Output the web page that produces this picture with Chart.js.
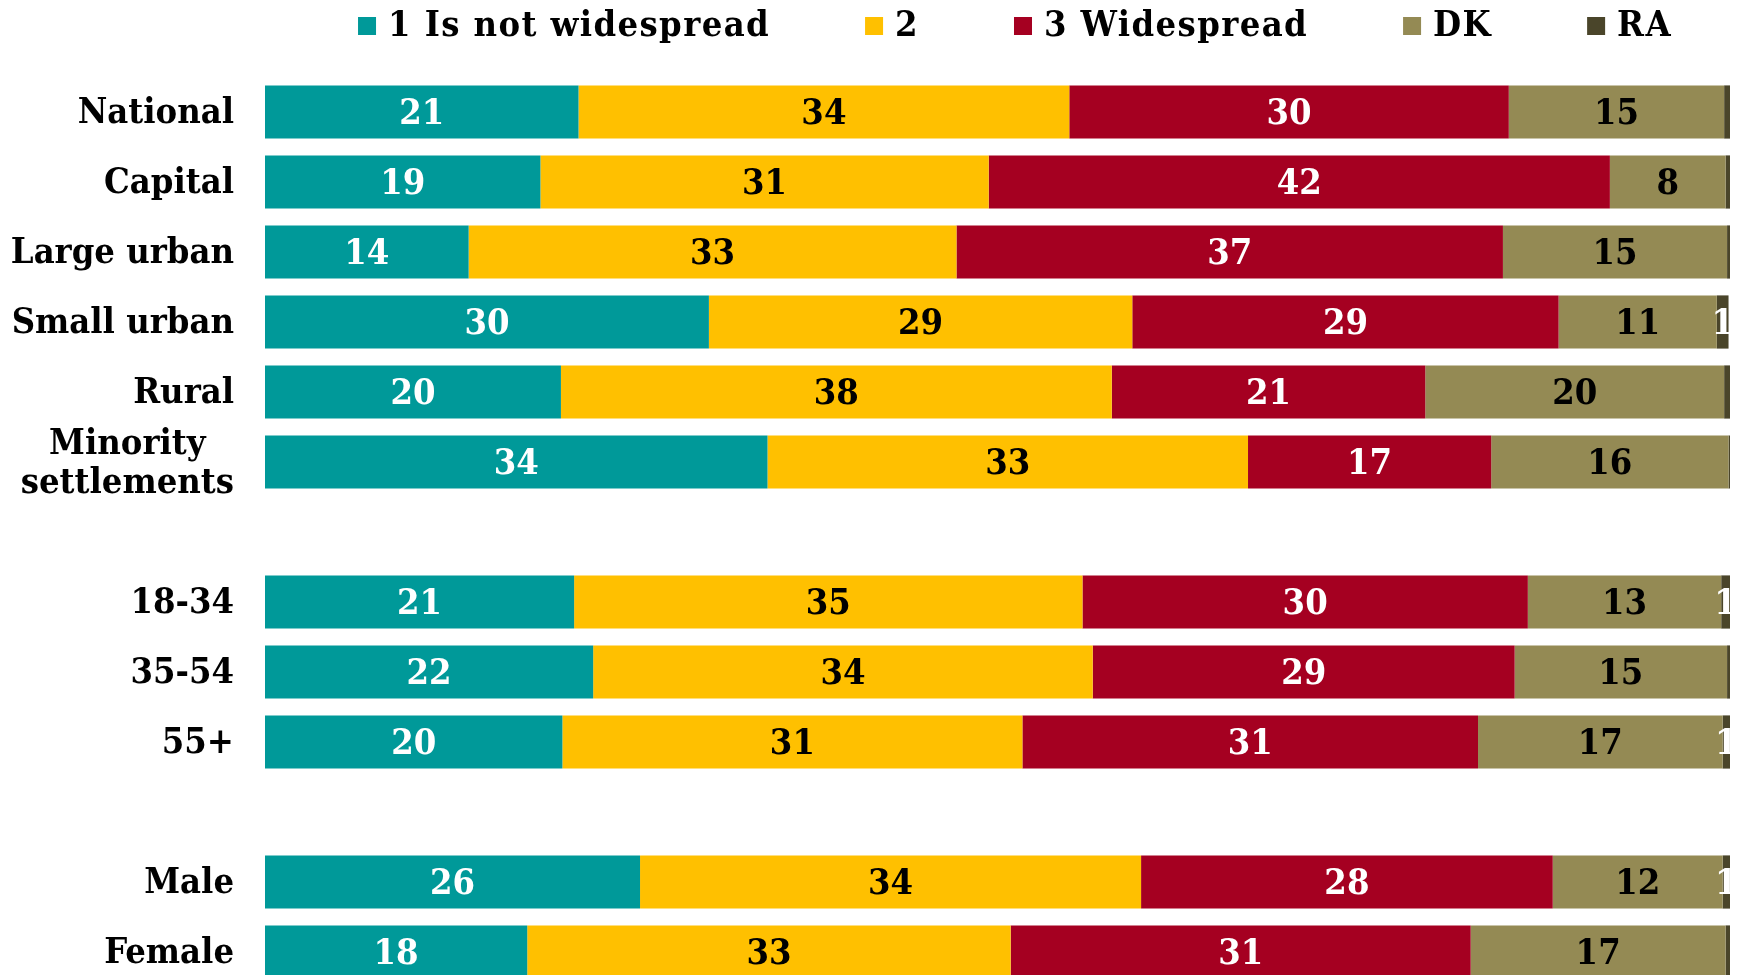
<!DOCTYPE html>
<html>
<head>
<meta charset="utf-8">
<script src="https://cdn.jsdelivr.net/npm/chart.js@4.4.1/dist/chart.umd.min.js"></script>
<style>
  html, body { margin: 0; padding: 0; background: #fff; overflow: hidden; }
  #wrap { position: relative; width: 1737px; height: 990px; }
</style>
</head>
<body>
<div id="wrap"><canvas id="chart"></canvas></div>
<script>
const categories = [
  "National", "Capital", "Large urban", "Small urban", "Rural", ["Minority", "settlements"],
  "", "18-34", "35-54", "55+", "", "Male", "Female",
];

const notWidespread = [21.4, 18.8, 13.9, 30.3, 20.2, 34.3, null, 21.1, 22.4, 20.3, null, 25.6, 17.9];
const two           = [33.5, 30.6, 33.3, 28.9, 37.6, 32.8, null, 34.7, 34.1, 31.4, null, 34.2, 33.0];
const widespread    = [30.0, 42.4, 37.3, 29.1, 21.4, 16.6, null, 30.4, 28.8, 31.1, null, 28.1, 31.4];
const dontKnow      = [14.7, 7.9, 15.3, 10.8, 20.4, 16.2, null, 13.2, 14.5, 16.7, null, 11.6, 17.4];
const refused       = [0.4, 0.3, 0.2, 0.8, 0.4, 0.1, null, 0.6, 0.2, 0.5, null, 0.5, 0.3];

const FONT_FAMILY = "'DejaVu Serif Condensed', 'DejaVu Serif', serif";
const FONT = `bold 36px ${FONT_FAMILY}`;

function valueLabelPlugin() {
  return {
    id: "value-labels",
    afterDatasetsDraw(chart) {
      const { ctx } = chart;
      ctx.save();
      ctx.font = FONT;
      ctx.textAlign = "center";
      ctx.textBaseline = "middle";
      chart.data.datasets.forEach((dataset, datasetIndex) => {
        const meta = chart.getDatasetMeta(datasetIndex);
        meta.data.forEach((bar, index) => {
          const value = dataset.data[index];
          if (value == null) return;
          const shown = Math.round(value);
          if (shown < 1) return;
          ctx.fillStyle = dataset.labelColor;
          ctx.fillText(String(shown), (bar.x + bar.base) / 2, bar.y + 3);
        });
      });
      ctx.restore();
    },
  };
}

function categoryLabelPlugin() {
  return {
    id: "category-labels",
    afterDraw(chart) {
      const { ctx } = chart;
      const yScale = chart.scales.y;
      const right = chart.chartArea.left - 31;
      const lineHeight = 39;
      ctx.save();
      ctx.font = FONT;
      ctx.fillStyle = "#000";
      ctx.textBaseline = "middle";
      ctx.textAlign = "center";
      chart.data.labels.forEach((label, index) => {
        const lines = Array.isArray(label) ? label : [label];
        if (!lines[0]) return;
        const blockWidth = Math.max(...lines.map((line) => ctx.measureText(line).width));
        const cx = right - blockWidth / 2;
        const cy = yScale.getPixelForValue(index);
        const top = cy - ((lines.length - 1) * lineHeight) / 2;
        lines.forEach((line, i) => ctx.fillText(line, cx, top + i * lineHeight + 2));
      });
      ctx.restore();
    },
  };
}

function legendPlugin() {
  return {
    id: "top-legend",
    afterDraw(chart) {
      const { ctx } = chart;
      const box = 18;
      const boxGap = 12;
      const itemGap = 95;
      const center = 1015;
      ctx.save();
      ctx.font = FONT;
      ctx.letterSpacing = "1.4px";
      ctx.textBaseline = "middle";
      ctx.textAlign = "left";
      const widths = chart.data.datasets.map((ds) => box + boxGap + ctx.measureText(ds.label).width);
      const total = widths.reduce((a, b) => a + b, 0) + itemGap * (widths.length - 1);
      let x = center - total / 2;
      chart.data.datasets.forEach((ds, i) => {
        ctx.fillStyle = ds.backgroundColor;
        ctx.fillRect(x, 17, box, box);
        ctx.fillStyle = "#000";
        ctx.fillText(ds.label, x + box + boxGap, 27);
        x += widths[i] + itemGap;
      });
      ctx.restore();
    },
  };
}

new Chart(document.getElementById("chart"), {
  type: "bar",
  data: {
    labels: categories,
    datasets: [
      { label: "1 Is not widespread", data: notWidespread, backgroundColor: "#009999", labelColor: "#fff" },
      { label: "2", data: two, backgroundColor: "#FFC000", labelColor: "#000" },
      { label: "3 Widespread", data: widespread, backgroundColor: "#A50021", labelColor: "#fff" },
      { label: "DK", data: dontKnow, backgroundColor: "#948A54", labelColor: "#000" },
      { label: "RA", data: refused, backgroundColor: "#4A452A", labelColor: "#fff" },
    ],
  },
  options: {
    indexAxis: "y",
    responsive: true,
    maintainAspectRatio: false,
    animation: false,
    datasets: { bar: { categoryPercentage: 1, barPercentage: 0.76, borderWidth: 0 } },
    layout: { padding: { top: 77, right: 7, bottom: 3, left: 0 } },
    plugins: {
      legend: { display: false },
      tooltip: { enabled: false },
    },
    scales: {
      x: { stacked: true, display: false, min: 0, max: 100 },
      y: {
        stacked: true,
        grid: { display: false, drawTicks: false },
        border: { display: false },
        ticks: { display: false },
        afterFit(scale) { scale.width = 265; },
      },
    },
  },
  plugins: [valueLabelPlugin(), categoryLabelPlugin(), legendPlugin()],
});
</script>
</body>
</html>
